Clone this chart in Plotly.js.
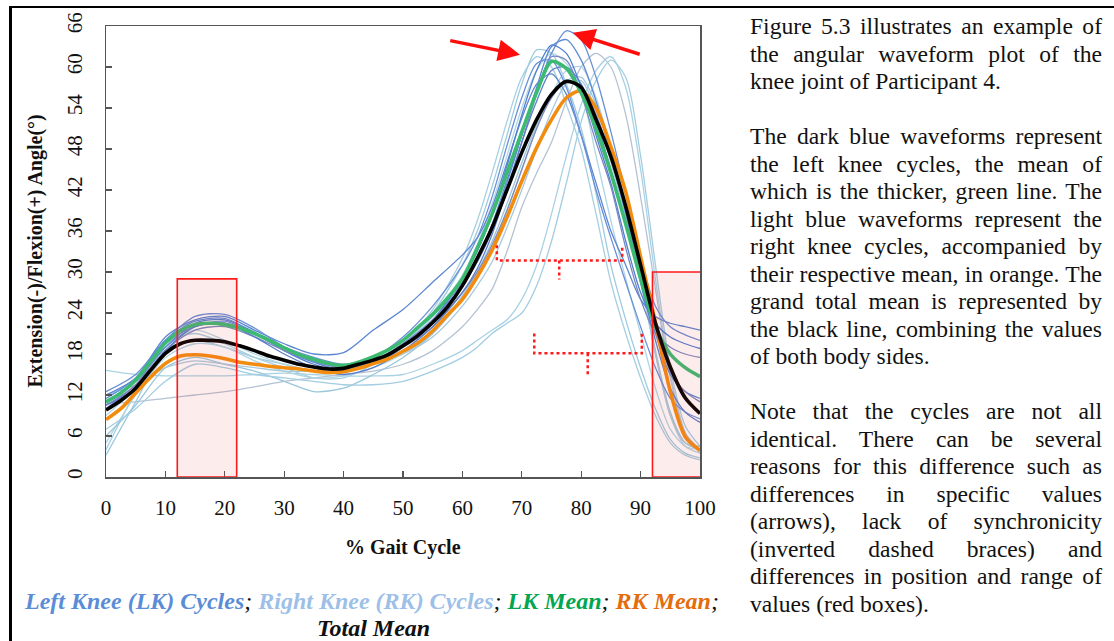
<!DOCTYPE html>
<html>
<head>
<meta charset="utf-8">
<script src="https://cdn.plot.ly/plotly-3.0.1.min.js"></script>
<style>
  html, body { margin:0; padding:0; background:#fff; }
  #wrap { position:relative; width:1114px; height:641px; overflow:hidden; }
  #chart { position:absolute; left:0; top:0; width:1114px; height:641px; }
  .frameTop { position:absolute; left:10px; top:6px; width:1104px; height:2px; background:#000; }
  .frameLeft { position:absolute; left:9px; top:6px; width:3px; height:640px; background:#000; }
  #para { position:absolute; left:750px; top:13px; width:352px; font-family:"Liberation Serif","Times New Roman",serif; font-size:23.6px; line-height:27.5px; color:#111; }
  #para div { white-space:nowrap; height:27.5px; }
  #para div.j { text-align:justify; text-align-last:justify; white-space:normal; overflow:visible; }
  #para div.gap { height:27.5px; }
</style>
</head>
<body>
<div id="wrap">
  <div id="chart"></div>
  <div class="frameTop"></div>
  <div class="frameLeft"></div>
  <div id="para"></div>
</div>
<script>
// ---------- data ----------
const cycleX = [0,5,10,15,20,25,30,35,40,45,50,55,60,62.5,65,67.5,70,72.5,75,77.5,80,82.5,85,87.5,90,92.5,95,97.5,100];

// Left knee cycles
const lk1 = [12.0,14.5,20.5,23.0,23.5,21.5,19.5,18.0,18.2,21.5,24.5,28.5,32.5,35.0,39.5,46.0,52.5,57.5,59.0,56.0,50.0,43.0,36.0,31.0,26.0,23.5,22.5,22.0,21.5];
const lk2 = [12.5,15.0,20.0,23.5,23.8,21.8,19.0,16.8,15.8,17.0,19.5,23.0,28.5,32.0,37.0,43.5,50.0,56.5,62.0,65.3,64.0,58.5,50.5,41.5,32.0,25.0,22.0,20.8,20.0];
const lk3 = [11.0,14.0,19.0,22.5,23.0,21.2,18.5,16.5,15.5,16.5,19.0,23.0,29.0,33.0,38.5,45.5,53.0,59.5,63.2,62.0,57.0,50.0,43.0,34.5,27.0,22.5,20.5,19.5,18.8];
const lk4 = [10.5,13.5,19.5,22.0,22.5,21.0,19.0,17.0,16.0,17.0,19.5,23.0,28.0,31.5,36.0,42.0,49.0,56.0,61.5,61.0,56.0,49.0,42.5,33.5,26.0,21.0,19.0,18.0,17.5];
const lk5 = [11.5,14.5,20.0,22.8,23.2,21.0,18.5,16.8,15.5,16.5,19.0,22.5,28.0,31.5,36.5,43.0,50.0,57.0,63.0,64.0,61.0,55.0,47.0,38.5,29.5,21.0,15.0,12.5,11.5];
const lk6 = [10.0,13.5,18.5,21.5,22.0,20.5,18.5,17.0,16.0,17.0,19.0,22.0,27.0,30.0,34.0,39.0,45.0,51.0,55.5,58.0,57.0,53.0,46.5,39.0,30.5,22.0,15.5,12.5,11.0];
const lk7 = [11.0,14.0,19.0,22.0,22.8,21.0,19.0,17.5,16.5,17.5,20.5,25.0,31.0,35.0,41.0,48.5,55.5,60.5,61.0,57.0,50.0,42.0,35.0,28.5,22.0,16.0,11.5,9.5,8.5];
const lk8 = [10.5,13.0,18.5,22.0,22.5,20.5,18.0,16.0,15.0,16.0,18.5,22.0,27.0,30.5,35.5,42.0,49.0,55.0,59.5,60.0,57.5,52.0,45.0,37.0,28.5,20.0,13.0,9.5,8.0];

// Right knee cycles
const rk1 = [15.6,15.0,14.8,14.8,14.8,15.0,15.2,15.0,14.8,14.8,15.0,16.5,18.5,20.0,21.5,23.0,26.0,31.0,38.5,47.0,54.5,59.5,61.5,57.0,45.0,29.0,15.0,6.5,3.5];
const rk2 = [10.8,11.0,11.5,12.0,12.5,13.2,14.0,14.5,15.0,15.5,16.5,18.5,22.0,24.5,27.5,33.0,39.5,44.5,49.0,55.0,60.0,62.0,60.0,53.0,41.0,27.5,14.5,6.5,4.0];
const rk3 = [3.2,11.0,18.5,20.0,19.0,17.5,16.5,15.5,15.5,17.0,19.5,24.0,31.0,36.0,42.5,50.0,57.5,62.5,62.0,57.5,51.0,41.5,31.0,23.0,16.0,10.0,5.5,3.5,2.8];
const rk4 = [4.0,12.5,19.5,21.0,19.5,17.5,16.0,14.5,14.5,16.5,19.5,24.5,32.0,37.5,44.5,52.0,58.5,61.5,60.0,54.5,48.0,38.5,28.5,21.0,14.5,9.0,5.0,3.2,2.5];
const rk5 = [5.0,12.0,17.5,19.5,19.0,17.0,15.5,14.5,14.8,16.0,18.0,21.0,26.0,29.5,33.5,39.0,45.0,51.0,56.0,59.5,60.0,55.5,48.0,39.0,29.0,18.0,9.0,4.5,3.5];
const rk6 = [6.0,10.5,16.0,17.5,16.5,15.5,14.0,12.5,13.0,15.0,17.5,21.0,26.5,30.0,34.5,40.0,46.0,51.5,55.5,58.0,58.5,54.5,47.5,39.0,29.0,18.5,9.5,5.0,4.0];
const rk7 = [7.0,10.0,14.0,16.5,16.0,15.0,14.5,14.0,13.5,13.5,14.0,15.5,17.5,19.0,21.0,22.5,24.0,28.0,34.5,43.0,52.0,58.0,61.0,58.5,47.0,31.0,16.0,7.5,4.5];
const rk8 = [9.0,13.0,19.0,21.5,20.0,18.0,16.5,15.5,15.5,17.0,19.5,23.5,29.5,34.0,40.0,47.0,54.0,59.5,62.0,60.5,56.5,47.0,37.5,29.0,21.0,13.0,7.0,4.5,4.0];
const rk9 = [12.0,13.5,16.0,17.0,16.5,16.0,15.5,15.5,15.8,16.5,18.0,20.5,25.0,28.0,31.5,36.5,42.0,48.0,53.5,57.5,58.0,53.5,46.0,38.0,28.5,18.0,9.0,5.0,4.5];

// Means
const meanX = [0,2.5,5,7.5,10,12.5,15,17.5,20,22.5,25,27.5,30,32.5,35,37.5,40,42.5,45,47.5,50,52.5,55,57.5,60,62.5,65,67.5,70,72.5,75,77.5,80,82.5,85,87.5,90,92.5,95,97.5,100];
const lkMean = [11.0,12.3,14.2,16.9,19.6,21.4,22.3,22.5,22.3,21.8,21.0,20.0,18.9,17.9,17.2,16.6,16.3,16.8,17.6,18.6,20.0,21.9,23.8,26.2,29.0,33.5,38.5,44.5,50.5,56.3,60.8,59.8,56.2,51.0,44.5,37.0,29.0,22.0,18.0,16.0,14.7];
const rkMean = [8.4,10.0,12.3,14.6,16.6,17.7,17.9,17.7,17.3,16.8,16.5,16.2,16.0,15.8,15.5,15.3,15.4,15.9,16.6,17.3,18.4,19.6,21.4,23.7,26.0,29.3,33.2,38.0,43.3,48.2,52.3,55.5,56.5,54.0,48.3,41.7,32.2,22.6,12.5,5.9,3.9];
const totalMean = [9.8,11.2,13.0,15.6,18.1,19.5,20.0,20.0,19.8,19.2,18.5,17.7,17.1,16.5,16.1,15.8,15.9,16.5,17.1,17.9,19.2,20.7,22.6,24.9,28.0,32.0,36.5,42.0,47.5,52.3,56.0,57.9,57.0,52.3,46.9,39.6,31.0,22.5,16.1,11.6,9.3];

// Axis ticks
const xTicks = [0,10,20,30,40,50,60,70,80,90,100];
const yTicks = [0,6,12,18,24,30,36,42,48,54,60,66];

// Annotation geometry (data units)
const boxLeft = [12, 22, 0, 29];
const boxRight = [92, 100.3, 0, 30];
const arrowLeft = {tip:[69.7, 61.8], tail:[57.7, 63.9]};
const arrowRight = {tip:[78.6, 65.0], tail:[90.1, 61.8]};
const braceUpper = {x:[65.8, 76.3, 86.9], y:[33.9, 31.7, 28.9]};
const braceLower = {x:[72.1, 81.1, 90.2], y:[21.0, 18.1, 15.0]};

// ---------- traces ----------
const lkSeries = [lk1, lk2, lk3, lk4, lk5, lk6, lk7, lk8];
const lkColors = ['#5b86d0','#6a8fd6','#4f7fcf','#7a86c4','#5d8ad4','#8088bb','#6b90d8','#5a7fc8'];
const rkSeries = [rk1, rk2, rk3, rk4, rk5, rk6, rk7, rk8, rk9];
const rkColors = ['#a9d2e2','#b4c2d4','#9fcbdf','#a6cfe0','#aed4e4','#9ac7dc','#a3cde1','#b0d6e6','#a8c9dc'];

const traces = [];
rkSeries.forEach((s, i) => traces.push({x: cycleX, y: s, type:'scatter', mode:'lines', line:{color: rkColors[i], width:1.3, shape:'spline', smoothing:0.8}, hoverinfo:'skip', showlegend:false}));
lkSeries.forEach((s, i) => traces.push({x: cycleX, y: s, type:'scatter', mode:'lines', line:{color: lkColors[i], width:1.3, shape:'spline', smoothing:0.8}, hoverinfo:'skip', showlegend:false}));
traces.push({x: meanX, y: rkMean, type:'scatter', mode:'lines', line:{color:'#f28c0f', width:3.6, shape:'spline', smoothing:0.8}, showlegend:false});
traces.push({x: meanX, y: lkMean, type:'scatter', mode:'lines', line:{color:'#3dba72', width:3.6, shape:'spline', smoothing:0.8}, showlegend:false});
traces.push({x: meanX, y: totalMean, type:'scatter', mode:'lines', line:{color:'#000000', width:3.6, shape:'spline', smoothing:0.8}, showlegend:false});

const serif = '"Liberation Serif", "Times New Roman", serif';
const axisCommon = {
  showline:true, mirror:true, linecolor:'#555', linewidth:1.5,
  ticks:'inside', ticklen:6, tickwidth:1.3, tickcolor:'#555',
  showgrid:false, zeroline:false,
  tickfont:{family: serif, size:21, color:'#111'}
};

function bracePath(b) {
  return `M ${b.x[0]},${b.y[0]} L ${b.x[0]},${b.y[1]} L ${b.x[2]},${b.y[1]} L ${b.x[2]},${b.y[0]} M ${b.x[1]},${b.y[1]} L ${b.x[1]},${b.y[2]}`;
}
function boxShape(b) {
  return {type:'rect', xref:'x', yref:'y', x0:b[0], x1:b[1], y0:b[2], y1:b[3], layer:'above', fillcolor:'rgba(235,70,70,0.10)', line:{color:'#ff1a1a', width:1.6}};
}

const legendLine1 = '<i><b><span style="color:#5b8dd6">Left Knee (LK) Cycles</span></b>; <b><span style="color:#9dbfe8">Right Knee (RK) Cycles</span></b>; <b><span style="color:#00a650">LK Mean</span></b>; <b><span style="color:#e46c0a">RK Mean</span></b>;</i>';
const legendLine2 = '<i><b>Total Mean</b></i>';

const layout = {
  width:1114, height:641,
  margin:{l:106, r:414, t:26, b:164, pad:0},
  paper_bgcolor:'rgba(0,0,0,0)', plot_bgcolor:'#fff',
  showlegend:false,
  xaxis: Object.assign({}, axisCommon, {range:[0,100], tickvals:xTicks, ticktext:xTicks.map(String), ticklabelstandoff:11}),
  yaxis: Object.assign({}, axisCommon, {range:[0,66], tickvals:yTicks, ticktext:yTicks.map(String), tickangle:-90, ticklabelstandoff:14}),
  shapes:[
    boxShape(boxLeft), boxShape(boxRight),
    {type:'path', xref:'x', yref:'y', path: bracePath(braceUpper), layer:'above', line:{color:'#ff1a1a', width:2.5, dash:'dot'}},
    {type:'path', xref:'x', yref:'y', path: bracePath(braceLower), layer:'above', line:{color:'#ff1a1a', width:2.5, dash:'dot'}}
  ],
  annotations:[
    {x:arrowLeft.tip[0], y:arrowLeft.tip[1], ax:arrowLeft.tail[0], ay:arrowLeft.tail[1], xref:'x', yref:'y', axref:'x', ayref:'y', text:'', showarrow:true, arrowhead:2, arrowsize:1.25, arrowwidth:3.5, arrowcolor:'#ff0d0d', standoff:0},
    {x:arrowRight.tip[0], y:arrowRight.tip[1], ax:arrowRight.tail[0], ay:arrowRight.tail[1], xref:'x', yref:'y', axref:'x', ayref:'y', text:'', showarrow:true, arrowhead:2, arrowsize:1.25, arrowwidth:3.5, arrowcolor:'#ff0d0d', standoff:0},
    {xref:'paper', yref:'paper', x:0.5, y:-0.1574, xanchor:'center', yanchor:'middle', showarrow:false, text:'<b>% Gait Cycle</b>', font:{family:serif, size:20, color:'#111'}},
    {xref:'paper', yref:'paper', x:-0.1195, y:0.5, xanchor:'center', yanchor:'middle', textangle:-90, showarrow:false, text:'<b>Extension(-)/Flexion(+) Angle(°)</b>', font:{family:serif, size:20, color:'#111'}},
    {xref:'paper', yref:'paper', x:0.4478, y:-0.2749, xanchor:'center', yanchor:'middle', showarrow:false, text:legendLine1, font:{family:serif, size:24, color:'#111'}},
    {xref:'paper', yref:'paper', x:0.4495, y:-0.3348, xanchor:'center', yanchor:'middle', showarrow:false, text:legendLine2, font:{family:serif, size:24, color:'#111'}}
  ]
};

Plotly.newPlot('chart', traces, layout, {staticPlot:true, displayModeBar:false});

// ---------- side paragraph ----------
const paraLines = [
  ['j','Figure 5.3 illustrates an example of'],
  ['j','the angular waveform plot of the'],
  ['l','knee joint of Participant 4.'],
  ['g',''],
  ['j','The dark blue waveforms represent'],
  ['j','the left knee cycles, the mean of'],
  ['j','which is the thicker, green line. The'],
  ['j','light blue waveforms represent the'],
  ['j','right knee cycles, accompanied by'],
  ['j','their respective mean, in orange. The'],
  ['j','grand total mean is represented by'],
  ['j','the black line, combining the values'],
  ['l','of both body sides.'],
  ['g',''],
  ['j','Note that the cycles are not all'],
  ['j','identical. There can be several'],
  ['j','reasons for this difference such as'],
  ['j','differences in specific values'],
  ['j','(arrows), lack of synchronicity'],
  ['j','(inverted dashed braces) and'],
  ['j','differences in position and range of'],
  ['l','values (red boxes).']
];
const para = document.getElementById('para');
paraLines.forEach(([k, t]) => {
  const d = document.createElement('div');
  if (k === 'j') d.className = 'j';
  if (k === 'g') d.className = 'gap';
  d.textContent = t;
  para.appendChild(d);
});
</script>
</body>
</html>
